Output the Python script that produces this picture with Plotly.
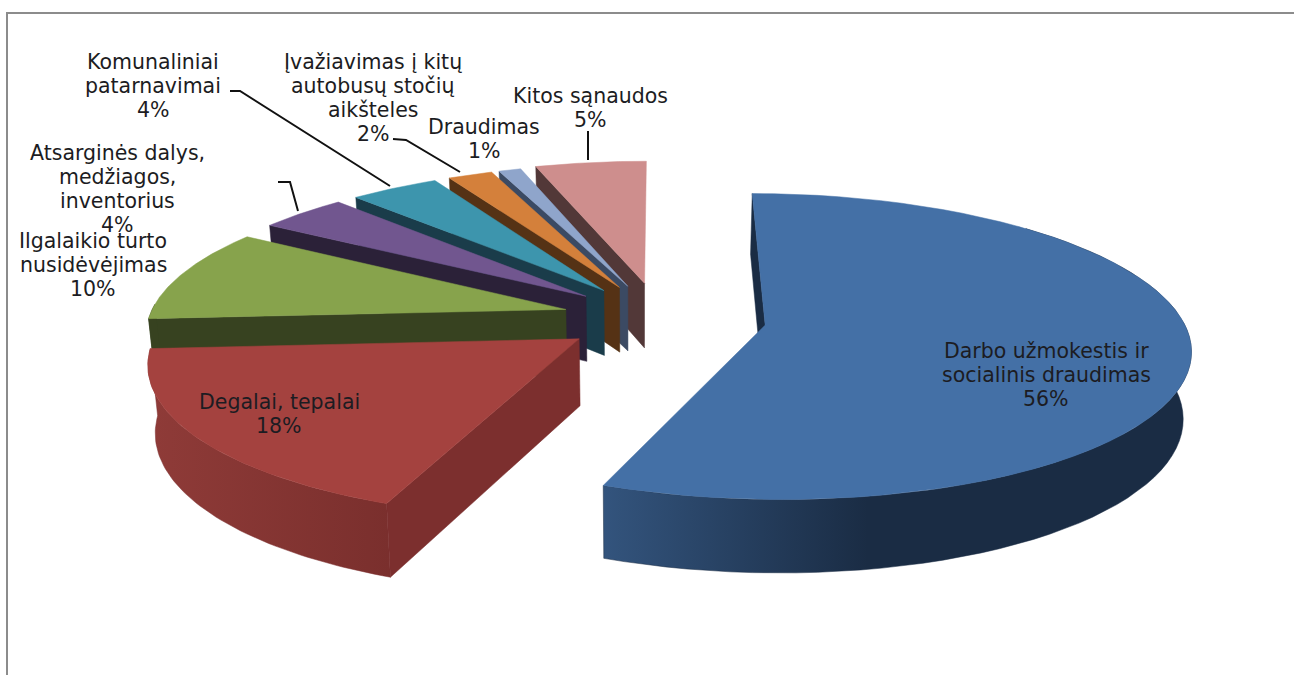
import math
import plotly.graph_objects as go

LABELS = [["Darbo užmokestis ir", "socialinis draudimas"], ["Degalai, tepalai"],
          ["Ilgalaikio turto", "nusidėvėjimas"], ["Atsarginės dalys,", "medžiagos,", "inventorius"],
          ["Komunaliniai", "patarnavimai"], ["Įvažiavimas į kitų", "autobusų stočių", "aikšteles"],
          ["Draudimas"], ["Kitos sąnaudos"]]
VALUES = [56, 18, 10, 4, 4, 2, 1, 5]
TOP_COLORS = ["#4470a6", "#a4423f", "#87a34c", "#71568f", "#3d95ad", "#d4803b", "#8fa5cb", "#ce8e8d"]
WALL_COLORS = ["#1a2c44", "#7c2f2e", "#374220", "#2b2138", "#1a3c4a", "#553215", "#3b4a63", "#523838"]
ARC_SCALES = {0: [[0, "#33547d"], [0.45, "#1a2c44"], [1, "#1a2c44"]],
              1: [[0, "#8f3b38"], [1, "#7a2f2d"]]}
EXPLODES = [0.255, 0.235, 0.235, 0.235, 0.235, 0.235, 0.235, 0.245]
LABEL_POS = [(1046, 351), (279, 402), (93, 241), (117, 153), (153, 62), (373, 62), (484, 127), (590, 96)]
LEADERS = [[(230, 91), (240, 91), (390, 186)],
           [(278, 182), (290, 182), (298, 211)],
           [(393, 139), (406, 140), (460, 172)],
           [(588, 131), (588, 160)]]
LINE_PITCH = 24

# camera model of the tilted pie
X0, Y0, A, B, K, DEPTH = 660, 318, 417, 148, 0.139, 66
VANISH_X, CONVERGE = 640, 0.015


def project(x, y, low=False):
    w = 1 + K * y
    u = X0 + A * x / w
    v = Y0 - B * y / w
    if low:
        v += DEPTH / w ** 0.68
        u += (VANISH_X - u) * CONVERGE
    return u, v


def rim(ax, ay, t0, t1, low=False, n=60):
    pts = []
    for i in range(n + 1):
        t = math.radians(t0 + (t1 - t0) * i / n)
        pts.append(project(ax + math.sin(t), ay + math.cos(t), low))
    return pts


def poly(pts, color, name, scale=None):
    kw = {}
    if scale:
        kw["fillgradient"] = dict(type="horizontal", colorscale=scale)
    else:
        kw["fillcolor"] = color
    return go.Scatter(x=[p[0] for p in pts] + [pts[0][0]], y=[p[1] for p in pts] + [pts[0][1]],
                      mode="lines", line=dict(width=0.5, color=color), fill="toself",
                      name=name, hoverinfo="skip", showlegend=False, **kw)


total = sum(VALUES)
spans, acc = [], 0.0
for v in VALUES:
    spans.append((acc, acc + 360 * v / total))
    acc = spans[-1][1]

fig = go.Figure()
for i in reversed(range(len(VALUES))):
    t0, t1 = spans[i]
    mid = math.radians((t0 + t1) / 2)
    ax, ay = EXPLODES[i] * math.sin(mid), EXPLODES[i] * math.cos(mid)
    top_apex, low_apex = project(ax, ay), project(ax, ay, True)
    e_top = rim(ax, ay, t0, t0, n=1)[0]
    e_low = rim(ax, ay, t0, t0, True, n=1)[0]
    fig.add_trace(poly([top_apex, e_top, e_low, low_apex], WALL_COLORS[i], f"wall{i}"))
    a0, a1 = max(t0, 45), min(t1, 272)
    if a1 > a0:
        up = rim(ax, ay, a0, a1)
        dn = rim(ax, ay, a0, a1, True)
        fig.add_trace(poly(up + dn[::-1], WALL_COLORS[i], f"arc{i}", ARC_SCALES.get(i)))
    fig.add_trace(poly([top_apex] + rim(ax, ay, t0, t1), TOP_COLORS[i], f"top{i}"))

for seg in LEADERS:
    fig.add_trace(go.Scatter(x=[p[0] for p in seg], y=[p[1] for p in seg], mode="lines",
                             line=dict(color="#111111", width=2), hoverinfo="skip", showlegend=False))

for lines, val, (x, y) in zip(LABELS, VALUES, LABEL_POS):
    for j, line in enumerate(lines + [f"{val}%"]):
        fig.add_annotation(x=x, y=y + j * LINE_PITCH, text=line, showarrow=False,
                           xanchor="center", yanchor="middle",
                           font=dict(family="DejaVu Sans", size=20.5, color="#1c1c22"))

fig.add_shape(type="path", path="M 7 675 L 7 13 L 1294 13", line=dict(color="#8c8c8c", width=2))
fig.update_xaxes(range=[0, 1294], visible=False, domain=[0, 1])
fig.update_yaxes(range=[675, 0], visible=False, domain=[0, 1])
fig.update_layout(width=1294, height=675, margin=dict(l=0, r=0, t=0, b=0),
                  paper_bgcolor="white", plot_bgcolor="white", showlegend=False)
fig.write_html("out.html", config={"displayModeBar": False},
               post_script="document.body.style.margin='0';document.body.style.overflow='hidden';")
